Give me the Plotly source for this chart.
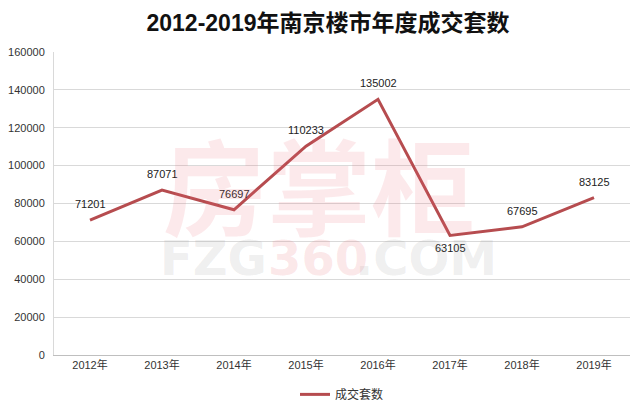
import plotly.graph_objects as go

years = ["2012年", "2013年", "2014年", "2015年", "2016年", "2017年", "2018年", "2019年"]
deals = [71201, 87071, 76697, 110233, 135002, 63105, 67695, 83125]
label_below = [False, False, False, False, False, True, False, False]
y_ticks = [0, 20000, 40000, 60000, 80000, 100000, 120000, 140000, 160000]

line_color = "#B64C4F"
font_cjk = "'Liberation Sans', 'Noto Sans CJK SC', sans-serif"

fig = go.Figure()
fig.add_trace(go.Scatter(
    x=years, y=deals, mode="lines", name="成交套数",
    line=dict(color=line_color, width=3),
))

for yr, v, below in zip(years, deals, label_below):
    fig.add_annotation(x=yr, y=v, text=str(v), showarrow=False,
                       yshift=-13 if below else 16,
                       font=dict(size=11, color="#222222", family=font_cjk))

# faint watermark
fig.add_annotation(text="<b>房掌柜</b>", x=0.46, y=0.57, xref="paper", yref="paper",
                   showarrow=False, font=dict(size=104, color="rgba(235,110,120,0.15)",
                                              family="Noto Sans CJK SC"))
fig.add_annotation(text="<b>FZG</b>", x=0.277, y=0.32, xref="paper", yref="paper",
                   xanchor="center", yanchor="middle", showarrow=False,
                   font=dict(size=48, color="rgba(140,140,140,0.15)", family="DejaVu Sans"))
fig.add_annotation(text="<b>360</b>", x=0.458, y=0.32, xref="paper", yref="paper",
                   xanchor="center", yanchor="middle", showarrow=False,
                   font=dict(size=48, color="rgba(235,110,120,0.17)", family="DejaVu Sans"))
fig.add_annotation(text="<b>.COM</b>", x=0.645, y=0.32, xref="paper", yref="paper",
                   xanchor="center", yanchor="middle", showarrow=False,
                   font=dict(size=48, color="rgba(140,140,140,0.15)", family="DejaVu Sans"))

fig.update_layout(
    width=640, height=413,
    paper_bgcolor="white", plot_bgcolor="white",
    margin=dict(l=46, r=18, t=44, b=66),
    title=dict(text="<b>2012-2019年南京楼市年度成交套数</b>", x=0.5, xanchor="center",
               y=0.965, yanchor="middle",
               font=dict(size=23, color="#111111", family=font_cjk)),
    showlegend=True,
    legend=dict(orientation="h", x=0.5, xanchor="center", y=-0.13, yanchor="middle",
                font=dict(size=12, color="#333333", family=font_cjk)),
    xaxis=dict(range=[-0.5, 7.5], showgrid=False, showline=True, linecolor="#BFBFBF",
               linewidth=1, ticks="", automargin=False,
               tickfont=dict(size=11, color="#333333", family=font_cjk)),
    yaxis=dict(range=[0, 160000], tickvals=y_ticks, ticktext=[str(t) for t in y_ticks],
               showgrid=True, gridcolor="#D9D9D9", automargin=False,
               showline=True, linecolor="#D9D9D9", zeroline=False, ticks="",
               ticklabelstandoff=6,
               tickfont=dict(size=11, color="#333333", family=font_cjk)),
)

fig.write_html("out.html")
